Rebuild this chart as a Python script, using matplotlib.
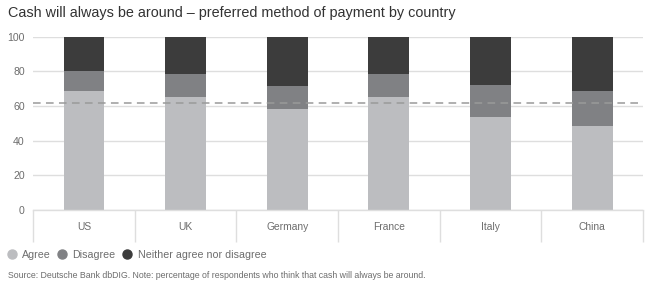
import matplotlib.pyplot as plt
import numpy as np
from matplotlib.lines import Line2D

plt.rcParams['font.family'] = ['Liberation Sans', 'DejaVu Sans']

countries = ["US", "UK", "Germany", "France", "Italy", "China"]
agree = [68.6, 65.1, 58.2, 65.1, 53.6, 48.4]
disagree = [11.6, 13.3, 13.3, 13.3, 18.5, 20.2]
neither = [19.8, 21.6, 28.5, 21.6, 27.9, 31.4]
avg_line = 62.0

series_names = ["Agree", "Disagree", "Neither agree nor disagree"]
colors = ["#bcbdc0", "#808184", "#3c3c3c"]
grey_txt = "#6d6d6d"
grid_col = "#dedede"

fig = plt.figure(figsize=(6.52, 2.90), dpi=100)
ax = fig.add_axes([33 / 652, 1 - 210 / 290, 610 / 652, 173.3 / 290])

x = np.arange(len(countries))
bottom = np.zeros(len(countries))
for vals, col in zip([agree, disagree, neither], colors):
    ax.bar(x, vals, width=0.4, bottom=bottom, color=col, zorder=2)
    bottom += np.array(vals)

ax.axhline(avg_line, color="#9a9a9a", lw=1.1, ls=(0, (5, 3.5)), zorder=3)

ax.set_xlim(-0.5, len(countries) - 0.5)
ax.set_ylim(0, 100)
ax.set_yticks([0, 20, 40, 60, 80, 100])
ax.yaxis.grid(True, color=grid_col, lw=1, zorder=0)
ax.tick_params(axis="y", length=0, pad=6, labelsize=7.6, labelcolor=grey_txt)

# category dividers below the axis
ax.set_xticks(np.arange(-0.5, len(countries)), minor=False)
ax.set_xticklabels([])
ax.tick_params(axis="x", which="major", length=23, width=1, color=grid_col, direction="out")
ax.set_xticks(x, minor=True)
ax.set_xticklabels(countries, minor=True)
ax.tick_params(axis="x", which="minor", length=0, pad=9, labelsize=7.4, labelcolor=grey_txt)

for s in ["top", "right", "left"]:
    ax.spines[s].set_visible(False)
ax.spines["bottom"].set_color(grid_col)
ax.spines["bottom"].set_linewidth(1)

fig.text(8 / 652, 1 - 13 / 290, "Cash will always be around \u2013 preferred method of payment by country",
         fontsize=10.4, color="#333333", va="center", ha="left")

handles = [Line2D([], [], marker="o", ls="none", markersize=6.5, markerfacecolor=c,
                  markeredgecolor=c) for c in colors]
fig.legend(handles, series_names, loc="center left", bbox_to_anchor=(1 / 652, 1 - 255 / 290),
           ncol=3, frameon=False, fontsize=7.7, labelcolor=grey_txt, handletextpad=0.35,
           columnspacing=0.5, handlelength=1.2, borderaxespad=0)

fig.text(8 / 652, 1 - 276 / 290,
         "Source: Deutsche Bank dbDIG. Note: percentage of respondents who think that cash will always be around.",
         fontsize=6.3, color=grey_txt, va="center", ha="left")

fig.savefig("out.png", dpi=100)
